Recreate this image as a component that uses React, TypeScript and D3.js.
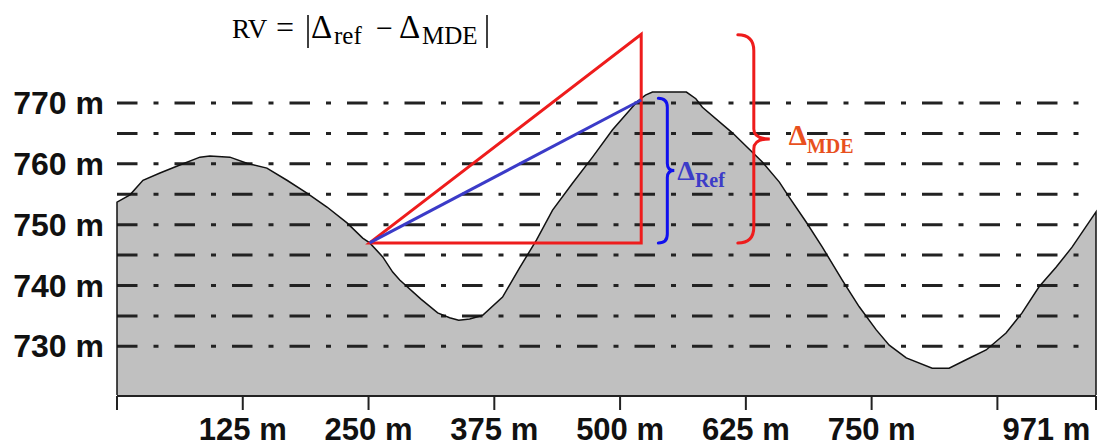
import React from "react";
import * as d3 from "d3";

// Terrain profile (distance in m, elevation in m)
const distances = [
  0, 12.9, 25.8, 42.7, 62.5, 82.4, 92.3, 112.2, 129.1, 149.0, 168.9, 188.8, 208.7, 228.6, 244.2,
  251.2, 264.1, 274.0, 281.0, 301.8, 318.7, 330.6, 339.6, 350.5, 363.4, 383.2, 400.1, 417.0,
  432.9, 452.7, 472.6, 492.5, 517.3, 525.2, 532.2, 565.9, 575.3, 581.8, 611.6, 641.4, 658.3,
  668.2, 685.1, 701.0, 720.8, 737.7, 754.6, 767.5, 784.4, 810.2, 827.0, 843.9, 863.8, 883.6,
  899.5, 916.4, 933.3, 949.2, 973.0,
];
const elevations = [
  753.7, 754.9, 757.3, 758.5, 759.8, 761.1, 761.3, 761.1, 760.1, 759.3, 757.3, 755.2, 752.9,
  750.3, 747.8, 747.0, 744.7, 742.2, 740.9, 737.8, 735.5, 734.7, 734.3, 734.5, 735.1, 738.1,
  742.9, 747.5, 752.4, 756.8, 761.1, 765.6, 770.3, 771.3, 771.8, 771.8, 770.7, 769.3, 765.1,
  760.3, 757.0, 754.5, 750.4, 746.3, 740.9, 736.5, 732.7, 730.2, 728.1, 726.4, 726.4, 727.8,
  729.4, 732.2, 735.5, 739.8, 743.0, 746.3, 752.1,
];

const gridLevels = [730, 735, 740, 745, 750, 755, 760, 765, 770];
const yLabelLevels = [770, 760, 750, 740, 730];
const xTickValues = [0, 125, 250, 375, 500, 625, 750, 875, 973];
const xTickLabels = ["", "125 m", "250 m", "375 m", "500 m", "625 m", "750 m", "971 m", ""];

// Reference / MDE construction
const refStart = { d: 251, h: 747 };
const refEnd = { d: 521, h: 770.5 };
const mdeTop = { d: 521, h: 781.3 };
const refBrace = { d: 538, top: 770.8, bottom: 747 };
const mdeBrace = { d: 617, top: 781.2, bottom: 747 };

const W = 1098;
const H = 447;

function bracePath(x0: number, y1: number, y2: number, wv: number, wt: number, r: number, r2: number) {
  const xv = x0 + wv;
  const xt = xv + wt;
  const ym = (y1 + y2) / 2;
  return [
    `M${x0},${y1}`,
    `Q${xv},${y1} ${xv},${y1 + r}`,
    `L${xv},${ym - r2}`,
    `Q${xv},${ym} ${xt},${ym}`,
    `Q${xv},${ym} ${xv},${ym + r2}`,
    `L${xv},${y2 - r}`,
    `Q${xv},${y2} ${x0},${y2}`,
  ].join(" ");
}

export default function App() {
  const x = d3.scaleLinear().domain([0, 973]).range([117, 1096]);
  const y = d3.scaleLinear().domain([722, 770]).range([395, 103]);

  const pts: [number, number][] = distances.map((d, i) => [d, elevations[i]]);
  const area = d3
    .area<[number, number]>()
    .x((p) => x(p[0]))
    .y0(y(722))
    .y1((p) => y(p[1]));
  const outline = d3
    .line<[number, number]>()
    .x((p) => x(p[0]))
    .y((p) => y(p[1]));
  const outlinePts: [number, number][] = [[0, 722], ...pts, [973, 722]];

  const axisY = 396;
  const labelFont = "Liberation Sans, Arial, sans-serif";
  const serif = "Liberation Serif, Times New Roman, DejaVu Serif, serif";

  const rb = { x0: x(refBrace.d), y1: y(refBrace.top), y2: y(refBrace.bottom) };
  const mb = { x0: x(mdeBrace.d), y1: y(mdeBrace.top), y2: y(mdeBrace.bottom) };
  const rbTipX = rb.x0 + 9 + 7;
  const rbTipY = (rb.y1 + rb.y2) / 2;
  const mbTipX = mb.x0 + 16 + 16;
  const mbTipY = (mb.y1 + mb.y2) / 2;

  return (
    <svg
      width={W}
      height={H}
      viewBox={`0 0 ${W} ${H}`}
      style={{ position: "absolute", left: 0, top: 0, background: "#fff" }}
    >
      <rect x={0} y={0} width={W} height={H} fill="#fff" />
      {/* terrain fill */}
      <path d={area(pts) || ""} fill="#c0c0c0" stroke="none" />

      {/* dash-dot grid lines */}
      {gridLevels.map((g) => (
        <line
          key={g}
          x1={x(0)}
          x2={1085}
          y1={y(g)}
          y2={y(g)}
          stroke="#222"
          strokeWidth={3}
          strokeDasharray="20.5 16 5 16"
        />
      ))}

      {/* terrain outline */}
      <path d={outline(outlinePts) || ""} fill="none" stroke="#111" strokeWidth={1.5} />

      {/* red triangle (MDE) */}
      <polygon
        points={`${x(refStart.d)},${y(refStart.h)} ${x(mdeTop.d)},${y(mdeTop.h)} ${x(mdeTop.d)},${y(refStart.h)}`}
        fill="none"
        stroke="#ee1c1c"
        strokeWidth={3}
        strokeLinejoin="miter"
      />
      {/* blue line (reference) */}
      <line
        x1={x(refStart.d)}
        y1={y(refStart.h)}
        x2={x(refEnd.d)}
        y2={y(refEnd.h)}
        stroke="#3b3bc8"
        strokeWidth={3}
      />

      {/* braces */}
      <path
        d={bracePath(rb.x0, rb.y1, rb.y2, 9, 7, 9, 7)}
        fill="none"
        stroke="#1010ee"
        strokeWidth={3}
        strokeLinecap="round"
      />
      <path
        d={bracePath(mb.x0, mb.y1, mb.y2, 16, 16, 16, 10)}
        fill="none"
        stroke="#ee1c1c"
        strokeWidth={3}
        strokeLinecap="round"
      />

      {/* brace labels */}
      <text x={rbTipX + 3} y={rbTipY + 9} fontFamily={serif} fontWeight="bold" fill="#3c3cc8">
        <tspan fontSize={28}>Δ</tspan>
        <tspan fontSize={20} dy={7}>Ref</tspan>
      </text>
      <text x={mbTipX + 19} y={mbTipY + 6} fontFamily={serif} fontWeight="bold" fill="#e8501e">
        <tspan fontSize={29}>Δ</tspan>
        <tspan fontSize={20} dy={8}>MDE</tspan>
      </text>

      {/* formula */}
      <g fontFamily={serif} fill="#000">
        <text x={232} y={38} fontSize={27}>RV</text>
        <text x={276} y={38} fontSize={32}>=</text>
        <line x1={308} x2={308} y1={15} y2={48} stroke="#000" strokeWidth={1.5} />
        <text x={311} y={38} fontSize={33}>Δ</text>
        <text x={334} y={44} fontSize={25}>ref</text>
        <text x={376} y={38} fontSize={30}>−</text>
        <text x={399} y={38} fontSize={33}>Δ</text>
        <text x={422} y={44} fontSize={25}>MDE</text>
        <line x1={487} x2={487} y1={15} y2={48} stroke="#000" strokeWidth={1.5} />
      </g>

      {/* y labels */}
      {yLabelLevels.map((v) => (
        <text
          key={v}
          x={104}
          y={y(v) + 11}
          textAnchor="end"
          fontFamily={labelFont}
          fontWeight="bold"
          fontSize={32}
          fill="#111"
        >
          {`${v} m`}
        </text>
      ))}

      {/* x axis */}
      <line x1={x(0)} x2={x(973)} y1={axisY} y2={axisY} stroke="#222" strokeWidth={2} />
      {xTickValues.map((t, i) => (
        <g key={t}>
          <line x1={x(t)} x2={x(t)} y1={axisY} y2={410} stroke="#222" strokeWidth={2} />
          {xTickLabels[i] && (
            <text
              x={i === 7 ? x(t) + 5 : x(t)}
              y={440}
              textAnchor={i === 7 ? "start" : "middle"}
              fontFamily={labelFont}
              fontWeight="bold"
              fontSize={31}
              fill="#111"
            >
              {xTickLabels[i]}
            </text>
          )}
        </g>
      ))}
    </svg>
  );
}
